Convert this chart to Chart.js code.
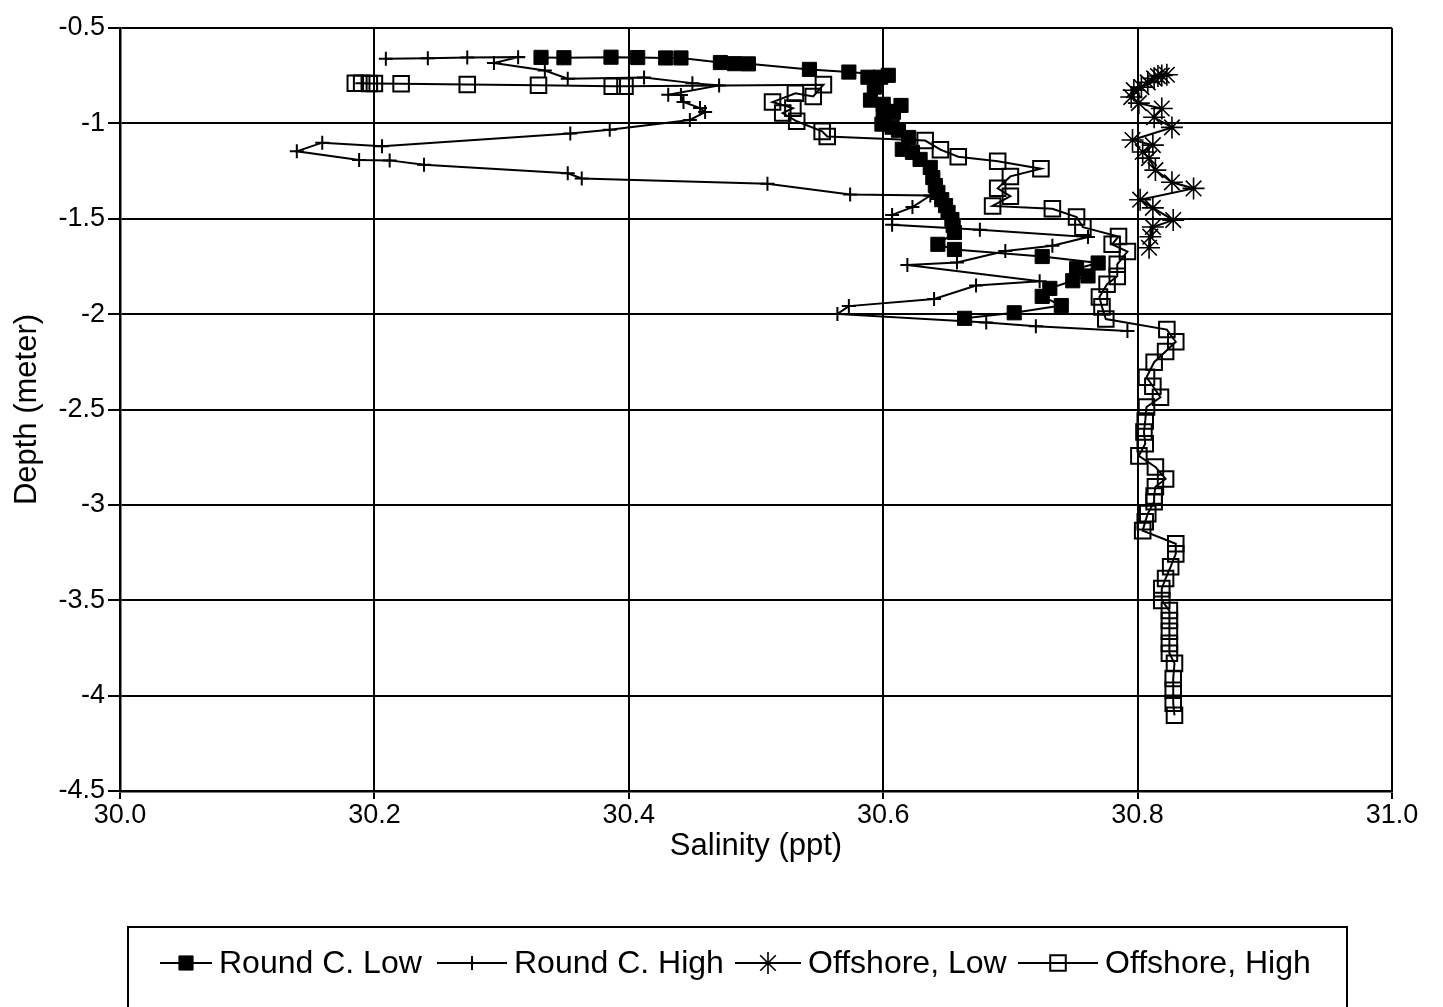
<!DOCTYPE html>
<html>
<head>
<meta charset="utf-8">
<script src="https://cdn.jsdelivr.net/npm/chart.js@4.4.1/dist/chart.umd.min.js"></script>
<style>
    html, body { margin: 0; padding: 0; background: #fff; }
    #wrap { position: relative; width: 1443px; height: 1007px; }
</style>
</head>
<body>
<div id="wrap"><canvas id="grafico" width="1443" height="1007"></canvas></div>
<script>
// ejes
const xTicks = [30.0, 30.2, 30.4, 30.6, 30.8, 31.0];
const xTickLabels = ["30.0", "30.2", "30.4", "30.6", "30.8", "31.0"];
const yTicks = [-0.5, -1, -1.5, -2, -2.5, -3, -3.5, -4, -4.5];
const yTickLabels = ["-0.5", "-1", "-1.5", "-2", "-2.5", "-3", "-3.5", "-4", "-4.5"];

// Round C. Low
const roundLowSal = [30.331, 30.349, 30.386, 30.407, 30.429, 30.441, 30.472, 30.483, 30.494, 30.542,
    30.573, 30.604, 30.598, 30.588, 30.593, 30.590, 30.600, 30.614, 30.608, 30.600,
    30.599, 30.607, 30.612, 30.620, 30.615, 30.623, 30.629, 30.637, 30.639, 30.641,
    30.643, 30.646, 30.649, 30.651, 30.654, 30.655, 30.656, 30.643, 30.656, 30.725,
    30.769, 30.752, 30.761, 30.749, 30.731, 30.725, 30.740, 30.703, 30.664];
const roundLowDepth = [-0.654, -0.656, -0.653, -0.655, -0.657, -0.657, -0.681, -0.687, -0.688, -0.717,
    -0.731, -0.748, -0.758, -0.758, -0.810, -0.878, -0.900, -0.906, -0.942, -0.957,
    -1.004, -1.020, -1.036, -1.074, -1.136, -1.152, -1.189, -1.231, -1.284, -1.326,
    -1.362, -1.400, -1.431, -1.467, -1.504, -1.536, -1.572, -1.634, -1.661, -1.698,
    -1.732, -1.762, -1.800, -1.825, -1.865, -1.907, -1.955, -1.993, -2.022];

// Round C. High
const roundHighSal = [30.209, 30.242, 30.273, 30.313, 30.294, 30.334, 30.352, 30.412, 30.450, 30.471,
    30.431, 30.441, 30.443, 30.456, 30.460, 30.448, 30.385, 30.354, 30.206, 30.159,
    30.139, 30.188, 30.212, 30.239, 30.352, 30.363, 30.509, 30.574, 30.637, 30.623,
    30.607, 30.607, 30.676, 30.761, 30.733, 30.696, 30.658, 30.619, 30.723, 30.673,
    30.640, 30.573, 30.564, 30.681, 30.720, 30.792];
const roundHighDepth = [-0.661, -0.658, -0.655, -0.653, -0.683, -0.723, -0.766, -0.760, -0.789, -0.801,
    -0.850, -0.851, -0.888, -0.920, -0.941, -0.982, -1.034, -1.053, -1.120, -1.101,
    -1.146, -1.192, -1.194, -1.217, -1.262, -1.289, -1.316, -1.373, -1.378, -1.439,
    -1.480, -1.532, -1.558, -1.596, -1.641, -1.669, -1.729, -1.742, -1.828, -1.850,
    -1.921, -1.958, -1.999, -2.044, -2.063, -2.089];

// Offshore, Low
const offLowSal = [30.823, 30.816, 30.819, 30.813, 30.808, 30.803, 30.797, 30.795, 30.801, 30.819,
    30.813, 30.827, 30.796, 30.812, 30.804, 30.809, 30.814, 30.827, 30.844, 30.802,
    30.812, 30.828, 30.812, 30.810, 30.809];
const offLowDepth = [-0.745, -0.752, -0.749, -0.764, -0.785, -0.810, -0.826, -0.862, -0.894, -0.922,
    -0.968, -1.021, -1.087, -1.114, -1.150, -1.182, -1.245, -1.309, -1.341, -1.400,
    -1.443, -1.507, -1.543, -1.594, -1.652];

// Offshore, High
const offHighSal = [30.185, 30.190, 30.196, 30.200, 30.221, 30.273, 30.329, 30.387, 30.397, 30.553,
    30.545, 30.531, 30.513, 30.529, 30.521, 30.532, 30.552, 30.556, 30.633, 30.645,
    30.659, 30.690, 30.724, 30.700, 30.690, 30.700, 30.686, 30.733, 30.752, 30.757,
    30.785, 30.780, 30.792, 30.784, 30.784, 30.776, 30.770, 30.772, 30.775, 30.823,
    30.830, 30.822, 30.813, 30.807, 30.812, 30.818, 30.807, 30.806, 30.805, 30.806,
    30.801, 30.814, 30.822, 30.814, 30.813, 30.813, 30.808, 30.806, 30.804, 30.830,
    30.830, 30.826, 30.822, 30.819, 30.819, 30.825, 30.825, 30.825, 30.825, 30.825,
    30.829, 30.828, 30.828, 30.828, 30.829];
const offHighDepth = [-0.790, -0.790, -0.791, -0.791, -0.792, -0.796, -0.800, -0.805, -0.805, -0.797,
    -0.859, -0.842, -0.888, -0.920, -0.946, -0.989, -1.042, -1.069, -1.090, -1.138,
    -1.175, -1.199, -1.238, -1.278, -1.340, -1.382, -1.433, -1.448, -1.491, -1.544,
    -1.593, -1.634, -1.672, -1.739, -1.802, -1.843, -1.910, -1.962, -2.026, -2.081,
    -2.145, -2.196, -2.252, -2.331, -2.378, -2.436, -2.487, -2.560, -2.618, -2.680,
    -2.743, -2.801, -2.864, -2.905, -2.953, -2.984, -3.046, -3.088, -3.135, -3.204,
    -3.257, -3.324, -3.386, -3.439, -3.501, -3.554, -3.606, -3.663, -3.726, -3.778,
    -3.831, -3.910, -3.972, -4.040, -4.103];

const fuente = "'Liberation Sans', Arial, sans-serif";

const puntos = (sal, prof) => sal.map((s, i) => ({ x: s, y: prof[i] }));

const serie = (label, sal, prof, estilo) => Object.assign({
    label: label,
    data: puntos(sal, prof),
    showLine: true,
    borderColor: "#000",
    borderWidth: 2,
    tension: 0,
    pointBorderColor: "#000",
    pointHoverRadius: 0
}, estilo);

// leyenda dibujada a mano dentro de un recuadro
const leyendaCaja = {
    id: "leyendaCaja",
    afterDraw(chart) {
        const ctx = chart.ctx;
        const inicio = [160, 437, 735, 1018];   // x de cada simbolo
        const largo = [52, 70, 66, 80];         // largo de la linea
        ctx.save();
        ctx.strokeStyle = "#000";
        ctx.lineWidth = 2;
        ctx.strokeRect(128, 927, 1219, 100);
        ctx.font = "32px " + fuente;
        ctx.textBaseline = "middle";
        const y = 963;
        chart.data.datasets.forEach((ds, i) => {
            const x = inicio[i];
            ctx.strokeStyle = "#000";
            ctx.lineWidth = 2;
            ctx.beginPath();
            ctx.moveTo(x, y);
            ctx.lineTo(x + largo[i], y);
            ctx.stroke();
            ctx.fillStyle = ds.pointBackgroundColor || "#000";
            ctx.lineWidth = ds.pointBorderWidth;
            Chart.helpers.drawPoint(ctx, {
                pointStyle: ds.pointStyle,
                radius: ds.pointRadius,
                rotation: 0,
                borderWidth: ds.pointBorderWidth
            }, x + largo[i] / 2, y);
            ctx.fillStyle = "#000";
            ctx.fillText(ds.label, x + largo[i] + 7, y + 1);
        });
        ctx.restore();
    }
};

new Chart(document.getElementById("grafico").getContext("2d"), {
    type: "scatter",
    data: {
        datasets: [
            serie("Round C. Low", roundLowSal, roundLowDepth, {
                pointStyle: "rect", pointRadius: 10, pointBackgroundColor: "#000", pointBorderWidth: 1
            }),
            serie("Round C. High", roundHighSal, roundHighDepth, {
                pointStyle: "cross", pointRadius: 7, pointBackgroundColor: "#000", pointBorderWidth: 2
            }),
            serie("Offshore, Low", offLowSal, offLowDepth, {
                pointStyle: "star", pointRadius: 11, pointBackgroundColor: "#000", pointBorderWidth: 1.6
            }),
            serie("Offshore, High", offHighSal, offHighDepth, {
                pointStyle: "rect", pointRadius: 11, pointBackgroundColor: "rgba(0,0,0,0)", pointBorderWidth: 2
            })
        ]
    },
    options: {
        responsive: false,
        devicePixelRatio: 1,
        animation: false,
        events: [],
        layout: { padding: { left: 0, right: 51, top: 28, bottom: 136 } },
        plugins: {
            legend: { display: false },
            tooltip: { enabled: false }
        },
        scales: {
            x: {
                type: "linear",
                position: "bottom",
                min: 30,
                max: 31,
                afterBuildTicks: scale => { scale.ticks = xTicks.map(v => ({ value: v })); },
                afterFit: scale => { scale.height = 80; },
                grid: { color: "#000", lineWidth: 2, tickLength: 8 },
                border: { color: "#000", width: 2.5 },
                ticks: {
                    autoSkip: false,
                    maxRotation: 0,
                    padding: 0,
                    color: "#000",
                    font: { family: fuente, size: 27 },
                    callback: (v, i) => xTickLabels[i]
                },
                title: {
                    display: true,
                    text: "Salinity (ppt)",
                    color: "#000",
                    font: { family: fuente, size: 31 },
                    padding: { top: 0, bottom: 6 }
                }
            },
            y: {
                type: "linear",
                min: -4.5,
                max: -0.5,
                afterBuildTicks: scale => { scale.ticks = yTicks.map(v => ({ value: v })); },
                afterFit: scale => { scale.width = 120; },
                grid: { color: "#000", lineWidth: 2, tickLength: 12 },
                border: { color: "#000", width: 2.5 },
                ticks: {
                    autoSkip: false,
                    padding: 3,
                    color: "#000",
                    font: { family: fuente, size: 27 },
                    callback: (v, i) => yTickLabels[i]
                },
                title: {
                    display: true,
                    text: "Depth (meter)",
                    color: "#000",
                    font: { family: fuente, size: 31 },
                    padding: { top: 9, bottom: 0 }
                }
            }
        }
    },
    plugins: [leyendaCaja]
});
</script>
</body>
</html>
